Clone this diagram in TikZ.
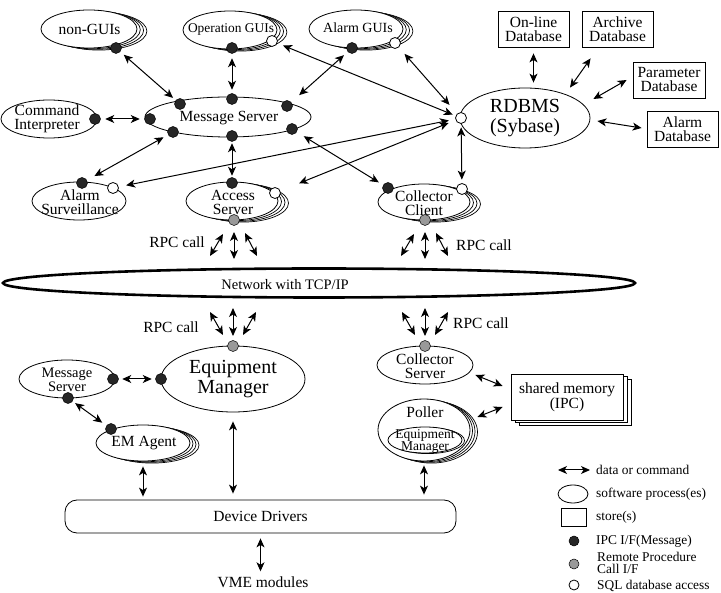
\documentclass[tikz,border=0pt]{standalone}
\usepackage{fontspec}
\setmainfont{Liberation Serif}
\usetikzlibrary{arrows.meta,shapes.geometric,calc}
\newcommand{\fsz}[2]{\fontsize{#1}{#2}\selectfont}
\newcommand{\procstack}[7]{%
  \foreach \k in {3,2,1}{\draw[line width=0.7pt,fill=white] (#2+\k*#6,#3+\k*#7) ellipse [x radius=#4pt, y radius=#5pt];}
  \node[proc, minimum width=2*#4pt, minimum height=2*#5pt] (#1) at (#2,#3) {};}
\newcommand{\fandown}[1]{%
  \draw[bi] ($(#1)+(-11,14)$) -- ($(#1)+(-24,36)$);
  \draw[bi] ($(#1)+(0,12)$) -- ($(#1)+(0,39)$);
  \draw[bi] ($(#1)+(11,13)$) -- ($(#1)+(23,36)$);}
\newcommand{\fanup}[1]{%
  \draw[bi] ($(#1)+(-23,-34)$) -- ($(#1)+(-10,-11)$);
  \draw[bi] ($(#1)+(0,-38)$) -- ($(#1)+(0,-10)$);
  \draw[bi] ($(#1)+(23,-34)$) -- ($(#1)+(10,-11)$);}
\begin{document}
\begin{tikzpicture}[x=1pt,y=-1pt,
  proc/.style={ellipse, draw, line width=0.8pt, fill=white, inner sep=0pt},
  store/.style={rectangle, draw, line width=0.8pt, fill=white, inner sep=0pt},
  dotb/.style={circle, draw=black, fill=black!85, minimum size=11pt, inner sep=0pt, line width=0.5pt},
  dotg/.style={dotb, fill=black!40},
  dotw/.style={dotb, fill=white, line width=0.8pt},
  bi/.style={line width=1pt, {Stealth[length=9pt,width=8pt,inset=2.5pt]}-{Stealth[length=9pt,width=8pt,inset=2.5pt]}},
  lbl/.style={font=\fsz{15.5}{14}, align=center, inner sep=0pt},
  big/.style={font=\fsz{20}{20}, align=center, inner sep=0pt},
  legt/.style={font=\fsz{13.4}{12.5}, align=left, inner sep=0pt},
]
\useasboundingbox (0,0) rectangle (721,593);
\clip (0,0) rectangle (721,593);

% ---- upper processes
\procstack{ng}{89}{29}{48}{19}{3.3}{0.7}
\procstack{og}{230}{30}{47}{19}{3.3}{0.7}
\procstack{ag}{356}{29}{47}{19}{3.3}{0.7}
\node[proc, minimum width=166pt, minimum height=40pt] (ms) at (228,117) {};
\node[proc, minimum width=96pt, minimum height=38pt] (ci) at (49,119) {};
\node[proc, minimum width=94pt, minimum height=38pt] (as) at (79,201) {};
\procstack{ac}{232}{201}{46}{19}{3.5}{0.7}
\procstack{cc}{424}{202}{46}{18}{3.5}{0.7}
\node[proc, minimum width=130pt, minimum height=60pt] (rd) at (525,118) {};

\node[lbl] (ngt) at (89.5,29) {non-GUIs};
\node[lbl, font=\fsz{13.4}{13}] (ogt) at (231,29) {Operation GUIs};
\node[lbl, font=\fsz{14}{13}] (agt) at (358,28) {Alarm GUIs};
\node[lbl] (mst) at (229,118) {Message Server};
\node[lbl] (cit) at (47,119) {Command\\Interpreter};
\node[lbl] (ast) at (80,202) {Alarm\\Surveillance};
\node[lbl] (act) at (233,202) {Access\\Server};
\node[lbl] (cct) at (424,203) {Collector\\Client};
\node[big] (rdt) at (525,118) {RDBMS\\(Sybase)};

% ---- databases
\node[store, lbl, minimum width=71pt, minimum height=36pt] (on) at (533.5,29) {On-line\\Database};
\node[store, lbl, minimum width=71pt, minimum height=36pt] (ar) at (617.5,29) {Archive\\Database};
\node[store, lbl, minimum width=72pt, minimum height=36pt] (pa) at (669,80) {Parameter\\Database};
\node[store, lbl, minimum width=71pt, minimum height=36pt] (ad) at (682.5,129) {Alarm\\Database};

% ---- network
\node[ellipse, draw, line width=2.6pt, minimum width=632pt, minimum height=29pt, inner sep=0pt] (net) at (319,283) {};
\node[lbl, font=\fsz{14.5}{14}] (nett) at (285,285) {Network with TCP/IP};

% ---- lower processes
\node[proc, minimum width=144pt, minimum height=66pt] (em) at (233,379) {};
\node[big] (emt) at (233,379) {Equipment\\Manager};
\node[proc, minimum width=96pt, minimum height=38pt] (ms2) at (67,379) {};
\node[lbl, font=\fsz{14.5}{14}] (ms2t) at (67,380) {Message\\Server};
\procstack{ema}{143}{443}{47}{18}{3}{0.7}
\node[lbl] (emat) at (144,443) {EM Agent};
\node[proc, minimum width=96pt, minimum height=38pt] (cs) at (425,365) {};
\node[lbl] (cst) at (425,366) {Collector\\Server};
\foreach \k in {2,1}{\draw[line width=0.7pt, fill=white] (511+\k*4,374+\k*2.5) rectangle (623+\k*4,420+\k*2.5);}
\node[store, lbl, minimum width=112pt, minimum height=46pt] (shm) at (567,397) {shared memory\\(IPC)};
\procstack{pol}{424}{430}{46}{31}{2.5}{0.7}
\node[lbl] (polt) at (425,412) {Poller};
\draw[line width=0.7pt, fill=white] (427.5,440.6) ellipse [x radius=37pt, y radius=13pt];
\node[proc, minimum width=74pt, minimum height=26pt] (pem) at (425,440) {};
\node[lbl, font=\fsz{13.5}{12}] (pemt) at (425,441) {Equipment\\Manager};
\node[draw, line width=0.8pt, rounded corners=12pt, minimum width=391pt, minimum height=33pt, inner sep=0pt, lbl] (dd) at (260.5,516.5) {Device Drivers};
\node[lbl] (vme) at (263,582) {VME modules};

% ---- RPC labels
\node[lbl, anchor=east] (rpc1) at (205,242) {RPC call};
\node[lbl, anchor=west] (rpc2) at (456,245) {RPC call};
\node[lbl, anchor=east] (rpc3) at (199,327) {RPC call};
\node[lbl, anchor=west] (rpc4) at (453,323) {RPC call};

% ---- interface dots
\node[dotb] (ngB) at (116,48) {};
\node[dotb] (ogB) at (232,48) {};
\node[dotw] (ogW) at (272,41) {};
\node[dotb] (agB) at (352,48) {};
\node[dotw] (agW) at (395,43) {};
\node[dotb] (msL) at (150,119) {};
\node[dotb] (msUL) at (180,104) {};
\node[dotb] (msLL) at (173,132) {};
\node[dotb] (msT) at (232,99) {};
\node[dotb] (msB) at (232,136) {};
\node[dotb] (msUR) at (287,106) {};
\node[dotb] (msLR) at (292,129) {};
\node[dotb] (ciB) at (95,119) {};
\node[dotb] (asB) at (82,183) {};
\node[dotw] (asW) at (113,188) {};
\node[dotb] (acB) at (232,183) {};
\node[dotw] (acW) at (275,193) {};
\node[dotg] (acG) at (234,220) {};
\node[dotb] (ccB) at (388,188) {};
\node[dotw] (ccW) at (462,189) {};
\node[dotg] (ccG) at (425,220) {};
\node[dotw] (rdW) at (461,118) {};
\node[dotg] (emG) at (233,346) {};
\node[dotb] (emB) at (161,379) {};
\node[dotb] (ms2R) at (113,379) {};
\node[dotb] (ms2B) at (68,398) {};
\node[dotb] (emaB) at (111,429) {};
\node[dotg] (csG) at (425,346) {};

% ---- connectors (upper)
\draw[bi, shorten <=4.5pt, shorten >=3.5pt] (ngB) -- (msUL);
\draw[bi, shorten <=4.5pt, shorten >=3.5pt] (ogB) -- (msT);
\draw[bi, shorten <=5pt, shorten >=10.5pt] (agB) -- (msUR);
\draw[bi, shorten <=6pt, shorten >=3pt] (ogW) -- (rdW);
\draw[bi, shorten <=8.5pt, shorten >=11.5pt] (agW) -- (rdW);
\draw[bi, shorten <=7.5pt, shorten >=6.5pt] (asW) -- (rdW);
\draw[bi, shorten <=20pt, shorten >=7.5pt] (acW) -- (rdW);
\draw[bi, shorten <=8pt, shorten >=5pt] (msLR) -- (ccB);
\draw[bi, shorten <=1.5pt, shorten >=1.5pt] (msB) -- (acB);
\draw[bi, shorten <=5pt, shorten >=8.5pt] (msLL) -- (asB);
\draw[bi, shorten <=4.5pt, shorten >=4.5pt] (ciB) -- (msL);
\draw[bi, shorten <=3.5pt, shorten >=3.5pt] (rdW) -- (ccW);

% ---- databases
\draw[bi, shorten <=6pt, shorten >=5pt] (on.south) -- (on.south |- rd.north);
\draw[bi] ($(ar.south west)+(9,11)$) -- ($(rd.north)+(45,0)$);
\draw[bi] ($(pa.west)+(-6,0)$) -- ($(rd.east)+(3,-19)$);
\draw[bi] ($(ad.west)+(-5,-1)$) -- ($(rd.east)+(7,3)$);

% ---- RPC fans
\fandown{acG}
\fandown{ccG}
\fanup{emG}
\fanup{csG}

% ---- lower connectors
\draw[bi, shorten <=3.5pt, shorten >=3.5pt] (ms2R) -- (emB);
\draw[bi, shorten <=3pt, shorten >=5pt] (ms2B) -- (emaB);
\draw[bi, shorten <=5pt, shorten >=3pt] (ema.south) -- (ema.south |- dd.north);
\draw[bi, shorten <=9pt, shorten >=6pt] (em.south) -- (em.south |- dd.north);
\draw[bi, shorten <=4pt, shorten >=5pt] (pol.south) -- (pol.south |- dd.north);
\draw[bi, shorten <=5pt, shorten >=5pt] (dd.south) -- (dd.south |- vme.north);
\draw[bi] ($(cs.east)+(2,10)$) -- ($(shm.west)+(-8,-11)$);
\draw[bi] ($(pol.east)+(7,-13)$) -- ($(shm.west)+(-8,10)$);

% ---- legend
\node[legt, anchor=west] (lg1) at (596,470) {data or command};
\draw[bi] ($(lg1.west)+(-38,0)$) -- ($(lg1.west)+(-6,0)$);
\node[proc, minimum width=30pt, minimum height=18pt] (lge) at (573,494) {};
\node[legt, anchor=west] (lg2) at (596,494) {software process(es)};
\node[store, minimum width=25pt, minimum height=18pt] (lgs) at (573.5,517) {};
\node[legt, anchor=west] (lg3) at (596,517) {store(s)};
\node[dotb, minimum size=10pt] (lgb) at (574,541) {};
\node[legt, anchor=west] (lg4) at (596,541) {IPC I/F(Message)};
\node[dotg, minimum size=10pt] (lgg) at (574,564) {};
\node[legt, anchor=west] (lg5) at (597,563) {Remote Procedure\\Call I/F};
\node[dotw, minimum size=10pt] (lgw) at (574,585) {};
\node[legt, anchor=west] (lg6) at (597,585.5) {SQL database access};
\end{tikzpicture}
\end{document}
